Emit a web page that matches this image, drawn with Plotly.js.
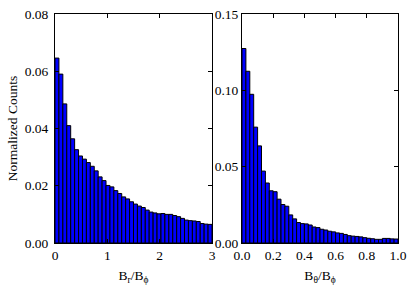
<!DOCTYPE html>
<html>
<head>
<meta charset="utf-8">
<script src="https://cdn.plot.ly/plotly-3.0.1.min.js"></script>
<style>html,body{margin:0;padding:0;background:#fff;}#chart{width:415px;height:288px;}</style>
</head>
<body>
<div id="chart"></div>
<script>
// Left panel: B_r / B_phi, 40 bins over [0, 3]
const brBinStart = 0;
const brBinWidth = 0.075;
const brCounts = [
  0.0646, 0.0590, 0.0486, 0.0410, 0.0364, 0.0326, 0.0304, 0.0293, 0.0281, 0.0268,
  0.0252, 0.0231, 0.0218, 0.0201, 0.0196, 0.0183, 0.0173, 0.0161, 0.0154, 0.0144,
  0.0136, 0.0129, 0.0124, 0.0115, 0.0108, 0.0105, 0.0102, 0.0103, 0.0100, 0.0100,
  0.0096, 0.0092, 0.0086, 0.0080, 0.0078, 0.0077, 0.0075, 0.0068, 0.0066, 0.0065
];
// Right panel: B_theta / B_phi, 40 bins over [0, 1]
const btBinStart = 0;
const btBinWidth = 0.025;
const btCounts = [
  0.1274, 0.1125, 0.0974, 0.0759, 0.0636, 0.0471, 0.0393, 0.0342, 0.0336, 0.0287,
  0.0252, 0.0241, 0.0184, 0.0158, 0.0134, 0.0127, 0.0125, 0.0118, 0.0105, 0.0101,
  0.0090, 0.0085, 0.0077, 0.0073, 0.0066, 0.0063, 0.0056, 0.0048, 0.0045, 0.0043,
  0.0040, 0.0035, 0.0031, 0.0028, 0.0024, 0.0024, 0.0030, 0.0030, 0.0027, 0.0026
];
const yLabel = "Normalized Counts";
const xLabelLeft = "B<sub>r</sub>/B<sub>ϕ</sub>";
const xLabelRight = "B<sub>θ</sub>/B<sub>ϕ</sub>";

const W = 415, H = 288;
const FONT = {family: "Liberation Serif, Times New Roman, serif", size: 13.5, color: "#000"};

const barStyle = {color: "#0000ff", line: {color: "#000", width: 1}};

const traces = [
  {type: "bar", x0: brBinStart + brBinWidth / 2, dx: brBinWidth, y: brCounts,
   width: brBinWidth, marker: barStyle, xaxis: "x", yaxis: "y", hoverinfo: "none"},
  {type: "bar", x0: btBinStart + btBinWidth / 2, dx: btBinWidth, y: btCounts,
   width: btBinWidth, marker: barStyle, xaxis: "x2", yaxis: "y2", hoverinfo: "none"}
];

function ax(extra) {
  return Object.assign({
    showline: true, linecolor: "#000", linewidth: 1, mirror: "ticks",
    ticks: "inside", ticklen: 4, tickwidth: 1, tickcolor: "#000",
    showgrid: false, zeroline: false, tickfont: FONT, fixedrange: true
  }, extra);
}

const yDom = [(H - 243) / H, (H - 14) / H];

const layout = {
  width: W, height: H,
  margin: {l: 0, r: 0, t: 0, b: 0},
  paper_bgcolor: "#fff", plot_bgcolor: "#fff",
  showlegend: false, bargap: 0,
  font: FONT,
  xaxis: ax({domain: [55 / W, 212 / W], range: [0, 3], dtick: 1, tick0: 0, anchor: "y",
    title: {text: xLabelLeft, font: FONT, standoff: 8}}),
  yaxis: ax({domain: yDom, range: [0, 0.08], dtick: 0.02, tick0: 0, tickformat: ".2f", anchor: "x",
    ticklabelstandoff: 3,
    title: {text: yLabel, font: FONT, standoff: 3}}),
  xaxis2: ax({domain: [242 / W, 398 / W], range: [0, 1], dtick: 0.2, tick0: 0, tickformat: ".1f", anchor: "y2",
    title: {text: xLabelRight, font: FONT, standoff: 8}}),
  yaxis2: ax({domain: yDom, range: [0, 0.15], dtick: 0.05, tick0: 0, tickformat: ".2f", anchor: "x2"})
};

Plotly.newPlot("chart", traces, layout, {staticPlot: true, displayModeBar: false});
</script>
</body>
</html>
